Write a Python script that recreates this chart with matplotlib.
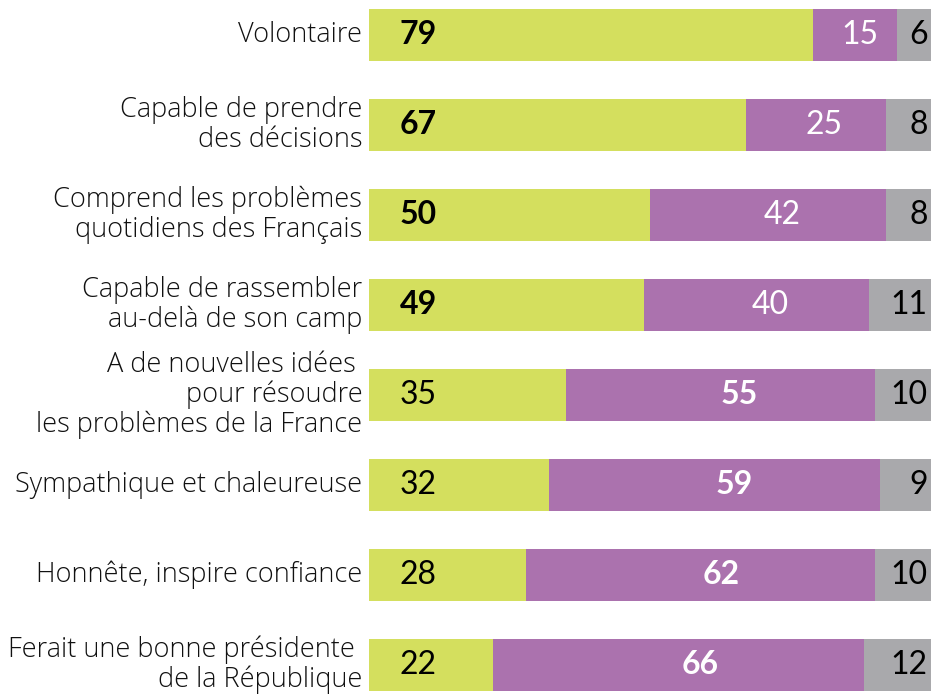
import numpy as np
import matplotlib.pyplot as plt

plt.rcParams['font.family'] = ['Lato', 'DejaVu Sans']

labels = ["Volontaire",
          "Capable de prendre\ndes décisions",
          "Comprend les problèmes\nquotidiens des Français",
          "Capable de rassembler\nau-delà de son camp",
          "A de nouvelles idées \npour résoudre\nles problèmes de la France",
          "Sympathique et chaleureuse",
          "Honnête, inspire confiance",
          "Ferait une bonne présidente \nde la République"]
oui = [79, 67, 50, 49, 35, 32, 28, 22]
non = [15, 25, 42, 40, 55, 59, 62, 66]
nsp = [6, 8, 8, 11, 10, 9, 10, 12]

green = '#d4df5e'
purple = '#ab72ae'
grey = '#a9a9ac'

fig = plt.figure(figsize=(9.31, 6.95), dpi=100)
ax = fig.add_axes([369 / 931, 0, 562 / 931, 1])

y = np.arange(len(labels))
h = 0.58
ax.barh(y, oui, height=h, color=green)
ax.barh(y, non, left=oui, height=h, color=purple)
ax.barh(y, nsp, left=np.array(oui) + np.array(non), height=h, color=grey)

for i in range(len(labels)):
    big_oui = oui[i] > non[i]
    ax.text(5.5, i, str(oui[i]), ha='left', va='center', fontsize=23,
            color='black', fontweight='bold' if big_oui else 'normal')
    ax.text(oui[i] + non[i] * 0.56, i, str(non[i]), ha='center', va='center',
            fontsize=23, color='white',
            fontweight='normal' if big_oui else 'bold')
    ax.text(99.4, i, str(nsp[i]), ha='right', va='center', fontsize=23,
            color='black')
    ax.text(-1.2, i, labels[i], ha='right', va='center', fontsize=19.5,
            family=['Open Sans', 'DejaVu Sans'], fontweight='light',
            color='#111111', linespacing=1.08, multialignment='right')

ax.set_xlim(0, 100)
ax.set_ylim(7 + 30 / 90, -35 / 90)
ax.axis('off')

fig.savefig('out.png', dpi=100)
